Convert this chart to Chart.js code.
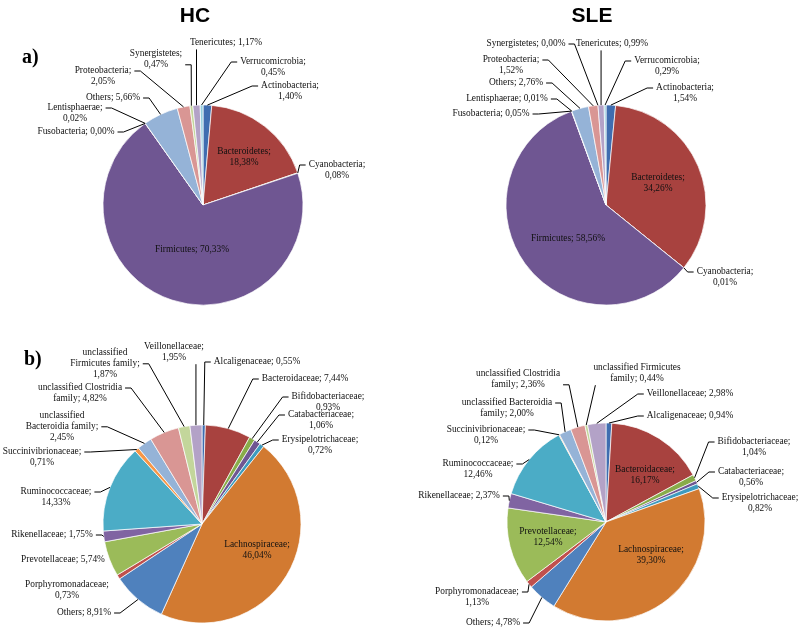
<!DOCTYPE html>
<html>
<head>
<meta charset="utf-8">
<script src="https://cdn.jsdelivr.net/npm/chart.js@4"></script>
<style>
  body { margin: 0; background: #fff; }
  #fig { position: relative; width: 800px; height: 633px; overflow: hidden; background: #fff; }
  #fig canvas { position: absolute; }
  .title { position: absolute; font: bold 21px "Liberation Sans", Arial, sans-serif; line-height: 1; transform: translateX(-50%); color: #000; }
  .panel { position: absolute; font: bold 20px "Liberation Serif", "Times New Roman", serif; line-height: 1; color: #000; }
</style>
</head>
<body>
<div id="fig">
  <canvas id="hc-phy"  width="400" height="316" style="left:0;top:0"></canvas>
  <canvas id="sle-phy" width="400" height="316" style="left:400px;top:0"></canvas>
  <canvas id="hc-fam"  width="400" height="317" style="left:0;top:316px"></canvas>
  <canvas id="sle-fam" width="400" height="317" style="left:400px;top:316px"></canvas>
  <div class="title" style="left:195px;top:4px">HC</div>
  <div class="title" style="left:592px;top:4px">SLE</div>
  <div class="panel" style="left:22px;top:46px">a)</div>
  <div class="panel" style="left:24px;top:348px">b)</div>
</div>
<script>
/* gut microbiota pies: phylum (a) and family (b) level, HC vs SLE */

const phylaLabels = ['Actinobacteria', 'Bacteroidetes', 'Cyanobacteria', 'Firmicutes', 'Fusobacteria',
  'Lentisphaerae', 'Others', 'Proteobacteria', 'Synergistetes', 'Tenericutes', 'Verrucomicrobia']
const phylaHC  = [1.40, 18.38, 0.08, 70.33, 0.00, 0.02, 5.66, 2.05, 0.47, 1.17, 0.45]
const phylaSLE = [1.54, 34.26, 0.01, 58.56, 0.05, 0.01, 2.76, 1.52, 0.00, 0.99, 0.29]

const familyLabels = ['Alcaligenaceae', 'Bacteroidaceae', 'Bifidobacteriaceae', 'Catabacteriaceae',
  'Erysipelotrichaceae', 'Lachnospiraceae', 'Others', 'Porphyromonadaceae', 'Prevotellaceae',
  'Rikenellaceae', 'Ruminococcaceae', 'Succinivibrionaceae', 'unclassified Bacteroidia family',
  'unclassified Clostridia family', 'unclassified Firmicutes family', 'Veillonellaceae']
const familyHC  = [0.55, 7.44, 0.93, 1.06, 0.72, 46.04, 8.91, 0.73, 5.74, 1.75, 14.33, 0.71, 2.45, 4.82, 1.87, 1.95]
const familySLE = [0.94, 16.17, 1.04, 0.56, 0.82, 39.30, 4.78, 1.13, 12.54, 2.37, 12.46, 0.12, 2.00, 2.36, 0.44, 2.98]

// colours (Excel-like palette: dark / normal / light accent rows)
const dark  = ['#3F6DB0', '#A8423F', '#88AC49', '#6F5692', '#3E9BBE', '#D27A31']
const norm  = ['#4F81BD', '#C0504D', '#9BBB59', '#8064A2', '#4BACC6', '#F79646']
const light = ['#95B3D7', '#D99694', '#C3D69B', '#B3A2C7', '#93CDDD', '#FAC090']
const phylaColors  = dark.concat(light.slice(0, 5))
const familyColors = dark.concat(norm, light.slice(0, 4))

// label placement: [dx, dy from pie centre to label (first line), leader side, words per line, leader line no.]
const placeHCphy = [
  [87, -119, 'l', [1, 1]], [41, -53, 'in', [1, 1]], [134, -40, 'l', [1, 1]], [-11, 45, 'in', null],
  [-127, -73, 'r', null], [-128, -97, 'r', [1, 1]], [-90, -107, 'r', null], [-100, -134, 'r', [1, 1]],
  [-47, -151, 'r', [1, 1], 1], [23, -162, 'b', null], [70, -143, 'l', [1, 1]]
]
const placeSLEphy = [
  [79, -117, 'l', [1, 1]], [52, -27, 'in', [1, 1]], [119, 67, 'l', [1, 1]], [-38, 34, 'in', null],
  [-115, -91, 'r', null], [-99, -106, 'r', null], [-90, -122, 'r', null], [-95, -145, 'r', [1, 1]],
  [-80, -161, 'r', null], [6, -161, 'b', null], [61, -144, 'l', [1, 1]]
]
const placeHCfam = [
  [55, -162, 'l', null], [103, -145, 'l', null], [126, -127, 'l', [1, 1]], [119, -109, 'l', [1, 1]],
  [118, -84, 'l', [1, 1]], [55, 21, 'in', [1, 1]], [-118, 89, 'r', null], [-135, 61, 'none', [1, 1]],
  [-139, 36, 'none', null], [-150, 11, 'r', null], [-146, -32, 'r', [1, 1]], [-160, -72, 'r', [1, 1]],
  [-140, -108, 'r', [1, 2, 1], 1], [-122, -136, 'r', [2, 2]], [-97, -171, 'r', [1, 2, 1], 1], [-28, -177, 'b', [1, 1]]
]
const placeSLEfam = [
  [84, -106, 'l', null], [39, -52, 'in', [1, 1]], [148, -80, 'l', [1, 1]], [145, -50, 'l', [1, 1]],
  [154, -24, 'l', [1, 1]], [45, 28, 'in', [1, 1]], [-113, 101, 'r', null], [-129, 70, 'r', [1, 1]],
  [-58, 10, 'in', [1, 1]], [-147, -26, 'r', null], [-128, -58, 'r', [1, 1]], [-120, -92, 'r', [1, 1]],
  [-99, -119, 'r', [2, 2]], [-88, -148, 'r', [2, 2], 1], [31, -154, 'b', [2, 2]], [84, -128, 'l', null]
]

const LABEL_FONT = '9.4px "Liberation Serif", "Times New Roman", serif'
const LH = 10.8

const fmtPct = v => v.toFixed(2).replace('.', ',') + '%'

function splitLines(text, wrap) {
  const words = text.split(' ')
  if (!wrap) return [text]
  const out = []
  let k = 0
  wrap.forEach((n, i) => {
    const take = i === wrap.length - 1 ? words.length - k : n
    out.push(words.slice(k, k + take).join(' '))
    k += take
  })
  return out
}

const sliceLabels = {
  id: 'sliceLabels',
  afterDatasetsDraw(chart, args, opts) {
    const ctx = chart.ctx
    const arcs = chart.getDatasetMeta(0).data
    const names = chart.data.labels
    const vals = chart.data.datasets[0].data
    ctx.save()
    ctx.font = LABEL_FONT
    ctx.textAlign = 'center'
    ctx.textBaseline = 'middle'
    ctx.strokeStyle = '#000'
    ctx.fillStyle = '#111'
    ctx.lineWidth = 1
    arcs.forEach((arc, i) => {
      const [dx, dy, side, wrap, lineNo] = opts.place[i]
      const lines = splitLines(names[i] + '; ' + fmtPct(vals[i]), wrap)
      const lx = arc.x + dx, ly = arc.y + dy
      const w = Math.max(...lines.map(s => ctx.measureText(s).width))
      const left = lx - w / 2, right = lx + w / 2
      const bottom = ly + (lines.length - 1) * LH + LH / 2
      const ay = ly + (lineNo || 0) * LH

      // leader line from slice edge to label
      const mid = (arc.startAngle + arc.endAngle) / 2
      const px = arc.x + Math.cos(mid) * arc.outerRadius
      const py = arc.y + Math.sin(mid) * arc.outerRadius
      ctx.beginPath()
      if (side === 'l') {
        ctx.moveTo(px, py); ctx.lineTo(left - 9, ay); ctx.lineTo(left - 3, ay)
      } else if (side === 'r') {
        ctx.moveTo(px, py); ctx.lineTo(right + 9, ay); ctx.lineTo(right + 3, ay)
      } else if (side === 'b') {
        const qx = Math.min(Math.max(px, left + 2), right - 2)
        ctx.moveTo(px, py); ctx.lineTo(qx, bottom + 1)
      }
      ctx.stroke()

      lines.forEach((s, j) => ctx.fillText(s, lx, ly + j * LH))
    })
    ctx.restore()
  }
}

function makePie(id, labels, values, colors, place, frame) {
  const canvas = document.getElementById(id)
  const W = canvas.width, H = canvas.height
  return new Chart(canvas, {
    type: 'pie',
    data: {
      labels,
      datasets: [{
        data: values,
        backgroundColor: colors,
        borderColor: '#ffffff',
        borderWidth: 0.7,
        radius: frame.r
      }]
    },
    options: {
      responsive: false,
      animation: false,
      events: [],
      layout: {
        padding: {
          left: frame.cx - frame.r,
          right: W - frame.cx - frame.r,
          top: frame.cy - frame.r,
          bottom: H - frame.cy - frame.r
        }
      },
      plugins: {
        legend: { display: false },
        tooltip: { enabled: false },
        sliceLabels: { place }
      }
    },
    plugins: [sliceLabels]
  })
}

makePie('hc-phy',  phylaLabels,  phylaHC,   phylaColors,  placeHCphy,  { cx: 203, cy: 205, r: 100 })
makePie('sle-phy', phylaLabels,  phylaSLE,  phylaColors,  placeSLEphy, { cx: 206, cy: 205, r: 100 })
makePie('hc-fam',  familyLabels, familyHC,  familyColors, placeHCfam,  { cx: 202, cy: 208, r: 99 })
makePie('sle-fam', familyLabels, familySLE, familyColors, placeSLEfam, { cx: 206, cy: 206, r: 99 })
</script>
</body>
</html>
